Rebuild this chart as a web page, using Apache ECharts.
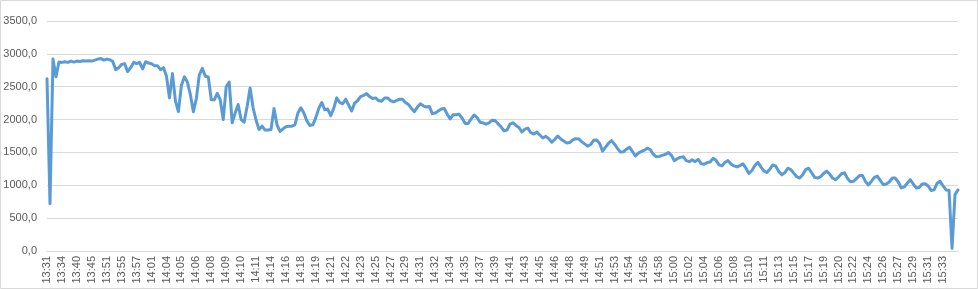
<!DOCTYPE html>
<html>
<head>
<meta charset="utf-8">
<script src="https://cdn.jsdelivr.net/npm/echarts@6/dist/echarts.min.js"></script>
<style>
html,body{margin:0;padding:0;background:#fff;}
#chart{width:978px;height:289px;}
</style>
</head>
<body>
<div id="chart"></div>
<script>
// Tick labels on the category axis (one every 5 samples)
var tickLabels = ["13:31","13:34","13:40","13:45","13:51","13:55","13:57","14:01","14:04","14:05","14:06","14:08","14:09","14:10","14:11","14:14","14:16","14:18","14:19","14:21","14:22","14:23","14:25","14:27","14:29","14:31","14:32","14:34","14:35","14:37","14:39","14:41","14:43","14:45","14:46","14:48","14:49","14:51","14:53","14:54","14:56","14:58","15:00","15:02","15:04","15:06","15:08","15:10","15:11","15:13","15:15","15:17","15:19","15:20","15:22","15:24","15:26","15:27","15:29","15:31","15:33"];
var samplesPerLabel = 5;

// Series values
var values = [
2620,720,2920,2650,2875,2870,2880,2870,2890,2875,
2890,2885,2895,2890,2895,2890,2905,2920,2930,2905,
2920,2910,2885,2760,2790,2840,2850,2730,2790,2870,
2850,2870,2770,2880,2860,2850,2820,2820,2760,2790,
2660,2330,2700,2280,2120,2520,2650,2570,2380,2120,
2320,2680,2780,2660,2650,2300,2300,2400,2300,2000,
2500,2570,1950,2100,2230,2000,1960,2200,2480,2180,
1990,1850,1900,1840,1840,1850,2170,1920,1820,1860,
1890,1900,1900,1920,2100,2180,2100,1980,1910,1920,
2030,2170,2260,2150,2160,2060,2170,2330,2260,2240,
2310,2220,2130,2250,2290,2350,2370,2395,2350,2320,
2330,2290,2280,2330,2330,2290,2270,2290,2310,2310,
2260,2230,2170,2120,2190,2240,2210,2190,2200,2090,
2100,2130,2160,2170,2080,2010,2075,2075,2080,2020,
1940,1940,2010,2070,2030,1960,1950,1930,1950,1990,
1985,1935,1890,1830,1840,1930,1950,1910,1880,1810,
1855,1870,1800,1780,1810,1765,1720,1745,1710,1655,
1700,1750,1705,1675,1645,1650,1690,1710,1705,1665,
1630,1595,1620,1685,1690,1640,1520,1580,1640,1680,
1625,1560,1505,1510,1550,1580,1515,1445,1490,1515,
1535,1565,1540,1470,1432,1440,1455,1470,1500,1460,
1375,1405,1425,1435,1375,1360,1390,1360,1395,1330,
1320,1345,1355,1410,1380,1310,1295,1350,1375,1325,
1295,1280,1300,1325,1260,1180,1225,1300,1350,1280,
1220,1195,1245,1310,1290,1210,1160,1190,1260,1240,
1185,1130,1110,1160,1240,1260,1190,1120,1110,1130,
1180,1215,1175,1110,1085,1125,1175,1190,1105,1055,
1060,1100,1150,1150,1060,1005,1060,1120,1140,1070,
1010,1020,1050,1110,1110,1050,960,975,1030,1085,
1020,960,965,1020,1025,990,920,930,1030,1060,
990,930,925,40,860,930
];

var categories = values.map(function (v, i) { return String(i); });

var chart = echarts.init(document.getElementById('chart'), null, {renderer: 'canvas'});
chart.setOption({
  animation: false,
  backgroundColor: '#ffffff',
  textStyle: {fontFamily: 'Liberation Sans, Arial, sans-serif'},
  graphic: [{
    type: 'rect',
    shape: {x: 0.5, y: 0.5, width: 977, height: 288},
    style: {fill: 'none', stroke: '#D9D9D9', lineWidth: 1},
    silent: true
  }],
  grid: {left: 47, right: 20, top: 21, bottom: 38, containLabel: false},
  xAxis: {
    type: 'category',
    data: categories,
    boundaryGap: false,
    axisLine: {show: true, lineStyle: {color: '#D9D9D9', width: 1}},
    axisTick: {show: false},
    splitLine: {show: false},
    axisLabel: {
      interval: samplesPerLabel - 1,
      rotate: 90,
      margin: 5,
      color: '#595959',
      fontSize: 11,
      fontFamily: 'Liberation Sans, Arial, sans-serif',
      formatter: function (v, idx) {
        var k = idx / samplesPerLabel;
        return (idx % samplesPerLabel === 0 && tickLabels[k]) ? tickLabels[k] : '';
      }
    }
  },
  yAxis: {
    type: 'value',
    min: 0,
    max: 3500,
    interval: 500,
    axisLine: {show: false},
    axisTick: {show: false},
    splitLine: {show: true, lineStyle: {color: '#D9D9D9', width: 1}},
    axisLabel: {
      margin: 10,
      color: '#595959',
      fontSize: 11,
      fontFamily: 'Liberation Sans, Arial, sans-serif',
      formatter: function (v) { return v.toFixed(1).replace('.', ','); }
    }
  },
  series: [{
    type: 'line',
    data: values,
    showSymbol: false,
    symbol: 'none',
    smooth: false,
    lineStyle: {color: '#5B9BD5', width: 3, join: 'round', cap: 'round'},
    itemStyle: {color: '#5B9BD5'}
  }]
});
</script>
</body>
</html>
